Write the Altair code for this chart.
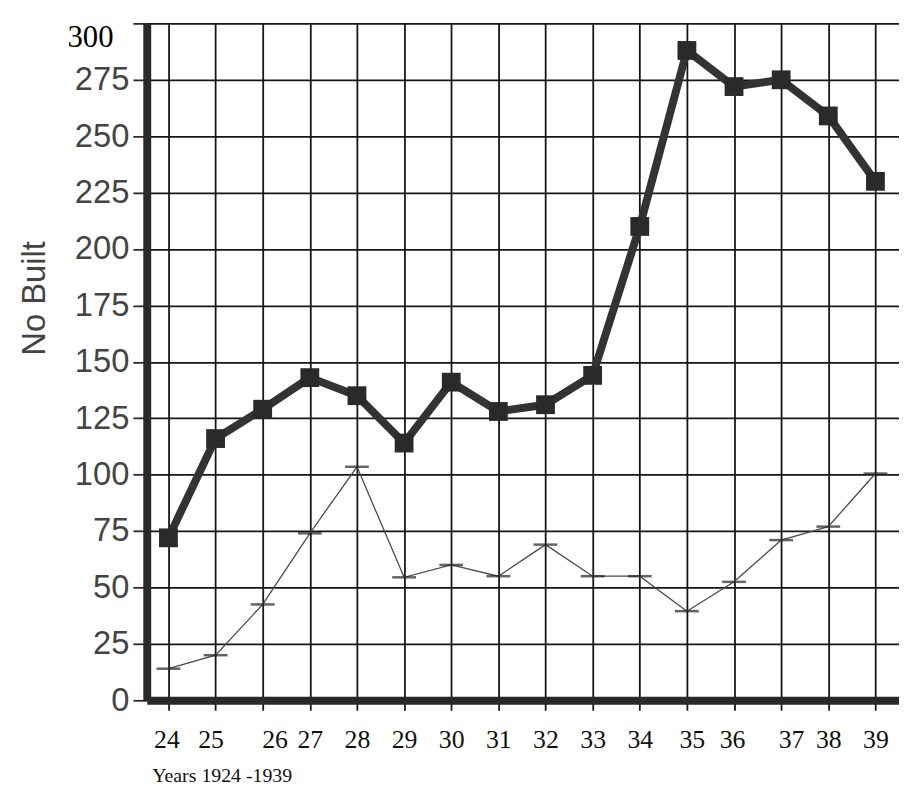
import altair as alt
import pandas as pd

years = [24, 25, 26, 27, 28, 29, 30, 31, 32, 33, 34, 35, 36, 37, 38, 39]
total_built = [72, 116, 129, 143, 135, 114, 141, 128, 131, 144, 210, 288, 272, 275, 259, 230]
other_built = [14, 20, 42.5, 74, 103.5, 54.5, 60, 55, 69, 55, 55, 39.5, 52.5, 71, 77, 100.5]
y_ticks = [0, 25, 50, 75, 100, 125, 150, 175, 200, 225, 250, 275, 300]

df = pd.DataFrame({"year": years, "total": total_built, "other": other_built})

xscale = alt.Scale(domain=[23.54, 39.5], nice=False, zero=False)
yscale = alt.Scale(domain=[0, 300], nice=False)

x_axis = alt.Axis(
    values=years, grid=True, gridColor="#161616", gridWidth=1.8,
    tickColor="#161616", tickWidth=1.8, tickSize=10,
    domainColor="#2a2a2a", domainWidth=8,
    labelFont="Liberation Serif", labelFontSize=26, labelColor="#111",
    labelPadding=17,
    labelOffset={"condition": [
        {"test": "datum.value == 24", "value": -2},
        {"test": "datum.value == 25", "value": -5},
        {"test": "datum.value == 26", "value": 12},
        {"test": "datum.value == 35", "value": 5},
        {"test": "datum.value == 36", "value": -2},
        {"test": "datum.value == 37", "value": 10},
    ], "value": 0},
    title="Years 1924 -1939", titleFont="Liberation Serif", titleFontSize=20,
    titleFontWeight="normal", titleColor="#111", titleAnchor="start",
    titleAlign="left", titleX=5, titleY=66, titleBaseline="top",
)

y_axis = alt.Axis(
    values=y_ticks, grid=True, gridColor="#161616", gridWidth=1.8,
    tickColor="#2a2a2a", tickWidth=1.8, tickSize=14,
    domainColor="#2a2a2a", domainWidth=8,
    labelFont={"condition": {"test": "datum.value == 300", "value": "Liberation Serif"}, "value": "Liberation Sans"},
    labelFontSize={"condition": {"test": "datum.value == 300", "value": 31}, "value": 33},
    labelColor={"condition": {"test": "datum.value == 300", "value": "#000"}, "value": "#444"},
    labelOffset={"condition": {"test": "datum.value == 300", "value": 14}, "value": 0},
    labelPadding={"condition": {"test": "datum.value == 300", "value": 20}, "value": 4},
    title="No Built", titleFont="Liberation Sans", titleFontSize=33,
    titleFontWeight="normal", titleColor="#444", titleAngle=270,
    titleAlign="center", titleBaseline="middle", titleX=-113, titleY=277,
)

base = alt.Chart(df)

x = alt.X("year:Q", scale=xscale, axis=x_axis)
y_total = alt.Y("total:Q", scale=yscale, axis=y_axis)
y_other = alt.Y("other:Q", scale=yscale)

total_line = base.mark_line(color="#333", strokeWidth=8, strokeJoin="round").encode(x=x, y=y_total)
total_pts = base.mark_square(color="#2a2a2a", size=360, opacity=1).encode(x=x, y=y_total)
other_line = base.mark_line(color="#4a4a4a", strokeWidth=1.3).encode(x=x, y=y_other)
other_ticks = base.mark_tick(orient="horizontal", color="#222", size=24, thickness=2.5).encode(x=x, y=y_other)

chart = alt.layer(total_line, total_pts, other_line, other_ticks).properties(
    width=759, height=683,
    autosize=alt.AutoSizeParams(type="none"),
    padding={"left": 140, "top": 12, "right": 0, "bottom": 90},
    background="white",
).configure_view(stroke=None)

chart.save("out.html", embed_options={"renderer": "svg", "actions": False})
